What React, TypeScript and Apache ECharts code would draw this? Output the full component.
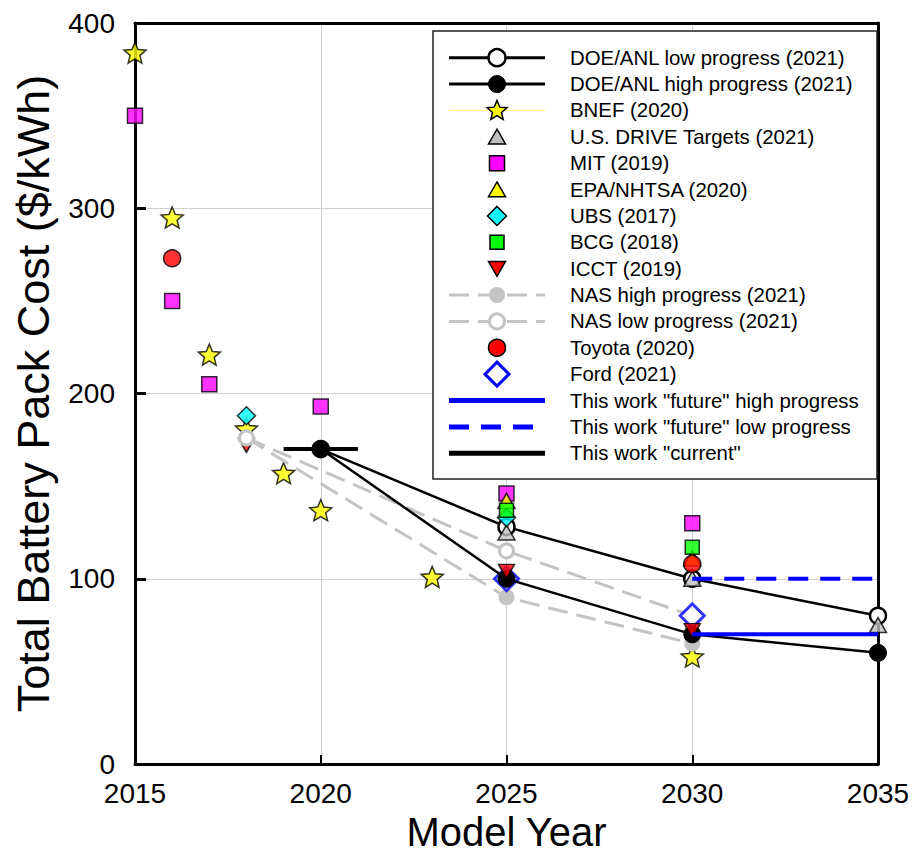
import { useEffect, useRef } from "react";
import * as echarts from "echarts";

const FONT = '"Liberation Sans", Arial, Helvetica, sans-serif';

// Pack cost projections, [model year, $/kWh]
const doeLowProgress = [[2020, 170], [2025, 128], [2030, 100], [2035, 80]];
const doeHighProgress = [[2020, 170], [2025, 100], [2030, 70], [2035, 60]];
const bnef = [[2015, 384], [2016, 295], [2017, 221], [2018, 181], [2019, 157], [2020, 137], [2023, 101], [2030, 58]];
const usDriveTargets = [[2025, 125], [2030, 100], [2035, 75]];
const mit = [[2015, 350], [2016, 250], [2017, 205], [2020, 193], [2025, 146], [2030, 130]];
const epaNhtsa = [[2025, 142], [2030, 111]];
const ubs = [[2018, 188], [2025, 133]];
const bcg = [[2025, 137], [2030, 117]];
const icct = [[2018, 172], [2025, 104], [2030, 72]];
const nasHighProgress = [[2018, 176], [2025, 90], [2030, 65]];
const nasLowProgress = [[2018, 176], [2025, 115], [2030, 80]];
const toyota = [[2016, 273], [2030, 108]];
const ford = [[2025, 100], [2030, 80]];
const futureHighProgress = [[2030, 70], [2035, 70]];
const futureLowProgress = [[2030, 100], [2035, 100]];
const currentWork = [[2019, 170], [2021, 170]];

const yearTicks = { min: 2015, max: 2035, interval: 5 };
const costTicks = { min: 0, max: 400, interval: 100 };

const legendLabels = [
  "DOE/ANL low progress (2021)",
  "DOE/ANL high progress (2021)",
  "BNEF (2020)",
  "U.S. DRIVE Targets (2021)",
  "MIT (2019)",
  "EPA/NHTSA (2020)",
  "UBS (2017)",
  "BCG (2018)",
  "ICCT (2019)",
  "NAS high progress (2021)",
  "NAS low progress (2021)",
  "Toyota (2020)",
  "Ford (2021)",
  'This work "future" high progress',
  'This work "future" low progress',
  'This work "current"',
];

const STAR_PATH =
  "path://M0,-10L2.645,-3.641L9.511,-3.09L4.28,1.391L5.878,8.09L0,4.5L-5.878,8.09L-4.28,1.391L-9.511,-3.09L-2.645,-3.641Z";

const YELLOW = "#ffff00";
const MAGENTA = "#ff00ff";
const GREY = "#c0c0c0";
const NAS_GREY = "#c4c4c4";
const CYAN = "#00ffff";
const GREEN = "#00ff00";
const RED = "#ff0000";
const BLUE = "#0000ff";

type MarkerKind = "circle" | "square" | "triUp" | "triDown" | "diamond" | "star";
interface LegendIcon {
  line?: { color: string; width: number; dash?: number[] };
  marker?: { kind: MarkerKind; size: number; fill: string; stroke?: string; lw?: number };
}

const legendIcons: LegendIcon[] = [
  { line: { color: "#000", width: 3 }, marker: { kind: "circle", size: 17, fill: "#fff", stroke: "#000", lw: 2.5 } },
  { line: { color: "#000", width: 3 }, marker: { kind: "circle", size: 17, fill: "#000", stroke: "#000", lw: 1 } },
  { line: { color: "#ffff80", width: 1 }, marker: { kind: "star", size: 21, fill: YELLOW, stroke: "#000", lw: 1.5 } },
  { marker: { kind: "triUp", size: 17, fill: GREY, stroke: "#000", lw: 1.5 } },
  { marker: { kind: "square", size: 15, fill: MAGENTA, stroke: "#000", lw: 1.5 } },
  { marker: { kind: "triUp", size: 17, fill: YELLOW, stroke: "#000", lw: 1.5 } },
  { marker: { kind: "diamond", size: 19, fill: CYAN, stroke: "#000", lw: 1.5 } },
  { marker: { kind: "square", size: 14, fill: GREEN, stroke: "#000", lw: 1.5 } },
  { marker: { kind: "triDown", size: 17, fill: RED, stroke: "#000", lw: 1.5 } },
  { line: { color: NAS_GREY, width: 3, dash: [20, 9] }, marker: { kind: "circle", size: 16, fill: NAS_GREY } },
  { line: { color: NAS_GREY, width: 3, dash: [20, 9] }, marker: { kind: "circle", size: 15, fill: "#fff", stroke: NAS_GREY, lw: 3 } },
  { marker: { kind: "circle", size: 17, fill: RED, stroke: "#000", lw: 1.5 } },
  { marker: { kind: "diamond", size: 24, fill: "#fff", stroke: BLUE, lw: 3 } },
  { line: { color: BLUE, width: 5 } },
  { line: { color: BLUE, width: 5, dash: [20, 12] } },
  { line: { color: "#000", width: 5 } },
];

function starPoints(cx: number, cy: number, R: number): number[][] {
  const pts: number[][] = [];
  const r = R * 0.45;
  for (let i = 0; i < 10; i++) {
    const rad = i % 2 === 0 ? R : r;
    const a = ((-90 + i * 36) * Math.PI) / 180;
    pts.push([cx + rad * Math.cos(a), cy + rad * Math.sin(a) + R * 0.05]);
  }
  return pts;
}

function markerGraphic(m: NonNullable<LegendIcon["marker"]>, cx: number, cy: number) {
  const s = m.size;
  const style = { fill: m.fill, stroke: m.stroke ?? "none", lineWidth: m.lw ?? 0 };
  const z = 102;
  switch (m.kind) {
    case "circle":
      return { type: "circle", z, shape: { cx, cy, r: s / 2 }, style };
    case "square":
      return { type: "rect", z, shape: { x: cx - s / 2, y: cy - s / 2, width: s, height: s }, style };
    case "triUp":
      return {
        type: "polygon", z,
        shape: { points: [[cx, cy - s * 0.45], [cx + s / 2, cy + s * 0.42], [cx - s / 2, cy + s * 0.42]] },
        style,
      };
    case "triDown":
      return {
        type: "polygon", z,
        shape: { points: [[cx - s / 2, cy - s * 0.42], [cx + s / 2, cy - s * 0.42], [cx, cy + s * 0.45]] },
        style,
      };
    case "diamond":
      return {
        type: "polygon", z,
        shape: { points: [[cx, cy - s / 2], [cx + s / 2, cy], [cx, cy + s / 2], [cx - s / 2, cy]] },
        style,
      };
    default:
      return { type: "polygon", z, shape: { points: starPoints(cx, cy, s / 2) }, style };
  }
}

function buildLegend() {
  const left = 433;
  const top = 31;
  const width = 444;
  const height = 448;
  const firstRow = 57.7;
  const rowStep = 26.37;
  const lineX0 = 449;
  const lineX1 = 545;
  const iconX = 497;
  const textX = 570;
  const els: any[] = [
    {
      type: "rect", z: 100,
      shape: { x: left, y: top, width, height },
      style: { fill: "#fff", stroke: "#222", lineWidth: 1.5 },
    },
  ];
  legendLabels.forEach((label, i) => {
    const y = firstRow + i * rowStep;
    const icon = legendIcons[i];
    if (icon.line) {
      els.push({
        type: "line", z: 101,
        shape: { x1: lineX0, y1: y, x2: lineX1, y2: y },
        style: { stroke: icon.line.color, lineWidth: icon.line.width, lineDash: icon.line.dash ?? null },
      });
    }
    if (icon.marker) els.push(markerGraphic(icon.marker, iconX, y));
    els.push({
      type: "text", z: 101,
      x: textX, y,
      style: { text: label, fill: "#000", fontSize: 20.4, fontFamily: FONT, verticalAlign: "middle", align: "left" },
    });
  });
  return els;
}

const markerBorder = { borderColor: "#000", borderWidth: 1.5 };

export default function App() {
  const ref = useRef<HTMLDivElement>(null);

  useEffect(() => {
    document.body.style.margin = "0";
    document.body.style.overflow = "hidden";
    if (!ref.current) return;
    const chart = echarts.init(ref.current, null, { renderer: "svg" });

    const frameAxis = {
      axisLine: { show: true, onZero: false, lineStyle: { color: "#000", width: 3 } },
      axisTick: { show: false },
      axisLabel: { show: false },
      splitLine: { show: false },
    };

    chart.setOption({
      animation: false,
      backgroundColor: "#fff",
      textStyle: { fontFamily: FONT },
      grid: { left: 135, top: 23, right: 35, bottom: 92, containLabel: false, outerBoundsMode: "none" },
      xAxis: [
        {
          type: "value",
          ...yearTicks,
          name: "Model Year",
          nameLocation: "middle",
          nameGap: 50,
          nameTextStyle: { fontSize: 40, lineHeight: 35, color: "#000", fontFamily: FONT },
          axisLine: { onZero: false, lineStyle: { color: "#000", width: 3 } },
          axisTick: { inside: true, length: 9, lineStyle: { color: "#000", width: 2 } },
          axisLabel: { fontSize: 28, color: "#000", margin: 15, fontFamily: FONT, formatter: (v: number) => String(v) },
          splitLine: { show: true, lineStyle: { color: "#d0d0d0", width: 1 } },
        },
        { type: "value", position: "top", ...yearTicks, ...frameAxis },
      ],
      yAxis: [
        {
          type: "value",
          ...costTicks,
          name: "Total Battery Pack Cost ($/kWh)",
          nameLocation: "middle",
          nameGap: 79,
          nameRotate: 90,
          nameTextStyle: { fontSize: 45, color: "#000", fontFamily: FONT },
          axisLine: { onZero: false, lineStyle: { color: "#000", width: 3 } },
          axisTick: { inside: true, length: 11, lineStyle: { color: "#000", width: 3 } },
          axisLabel: { fontSize: 28, color: "#000", margin: 20, fontFamily: FONT },
          splitLine: { show: true, lineStyle: { color: "#d0d0d0", width: 1 } },
        },
        { type: "value", position: "right", ...costTicks, ...frameAxis },
      ],
      series: [
        {
          name: "BNEF (2020)", type: "scatter", z: 2, data: bnef,
          symbol: STAR_PATH, symbolKeepAspect: true, symbolSize: 22,
          itemStyle: { color: YELLOW, ...markerBorder },
        },
        {
          // the 2018 ICCT point sits beneath the NAS starting marker
          name: "ICCT (2019)", type: "scatter", z: 3, data: icct.filter((p) => p[0] < 2020),
          symbol: "triangle", symbolRotate: 180, symbolSize: [16, 14],
          itemStyle: { color: RED, ...markerBorder },
        },
        {
          name: "NAS high progress (2021)", type: "line", z: 4, data: nasHighProgress,
          symbol: "circle", symbolSize: 16,
          itemStyle: { color: NAS_GREY, borderWidth: 0 },
          lineStyle: { color: NAS_GREY, width: 3, type: [20, 9] },
        },
        {
          name: "NAS low progress (2021)", type: "line", z: 4, data: nasLowProgress,
          symbol: "circle", symbolSize: 14,
          itemStyle: { color: "#fff", borderColor: NAS_GREY, borderWidth: 3 },
          lineStyle: { color: NAS_GREY, width: 3, type: [20, 9] },
        },
        {
          name: "Ford (2021)", type: "scatter", z: 5, data: ford,
          symbol: "diamond", symbolSize: [24, 24],
          itemStyle: { color: "#fff", borderColor: BLUE, borderWidth: 3 },
        },
        {
          name: "DOE/ANL low progress (2021)", type: "line", z: 6, data: doeLowProgress,
          symbol: "circle", symbolSize: 16,
          itemStyle: { color: "#fff", borderColor: "#000", borderWidth: 2.5 },
          lineStyle: { color: "#000", width: 2.5 },
        },
        {
          name: "DOE/ANL high progress (2021)", type: "line", z: 6, data: doeHighProgress,
          symbol: "circle", symbolSize: 17,
          itemStyle: { color: "#000", borderColor: "#000", borderWidth: 1 },
          lineStyle: { color: "#000", width: 2.5 },
        },
        {
          name: "U.S. DRIVE Targets (2021)", type: "scatter", z: 7, data: usDriveTargets,
          symbol: "triangle", symbolSize: [17, 15],
          itemStyle: { color: GREY, ...markerBorder },
        },
        {
          name: "MIT (2019)", type: "scatter", z: 7, data: mit,
          symbol: "rect", symbolSize: 15,
          itemStyle: { color: MAGENTA, ...markerBorder },
        },
        {
          name: "EPA/NHTSA (2020)", type: "scatter", z: 8, data: epaNhtsa,
          symbol: "triangle", symbolSize: [17, 15],
          itemStyle: { color: YELLOW, ...markerBorder },
        },
        {
          name: "UBS (2017)", type: "scatter", z: 8, data: ubs,
          symbol: "diamond", symbolSize: [18, 18],
          itemStyle: { color: CYAN, ...markerBorder },
        },
        {
          name: "BCG (2018)", type: "scatter", z: 9, data: bcg,
          symbol: "rect", symbolSize: 14,
          itemStyle: { color: GREEN, ...markerBorder },
        },
        {
          name: "ICCT (2019)", type: "scatter", z: 10, data: icct.filter((p) => p[0] >= 2020),
          symbol: "triangle", symbolRotate: 180, symbolSize: [16, 14],
          itemStyle: { color: RED, ...markerBorder },
        },
        {
          name: "Toyota (2020)", type: "scatter", z: 10, data: toyota,
          symbol: "circle", symbolSize: 17,
          itemStyle: { color: RED, ...markerBorder },
        },
        {
          name: 'This work "future" high progress', type: "line", z: 11, data: futureHighProgress,
          symbol: "none", lineStyle: { color: BLUE, width: 4 },
        },
        {
          name: 'This work "future" low progress', type: "line", z: 11, data: futureLowProgress,
          symbol: "none", lineStyle: { color: BLUE, width: 4, type: [20, 12] },
        },
        {
          name: 'This work "current"', type: "line", z: 11, data: currentWork,
          symbol: "none", lineStyle: { color: "#000", width: 4 },
        },
      ],
      graphic: { elements: buildLegend() },
    });

    return () => chart.dispose();
  }, []);

  return <div ref={ref} style={{ position: "absolute", left: 0, top: 0, width: 913, height: 856 }} />;
}
